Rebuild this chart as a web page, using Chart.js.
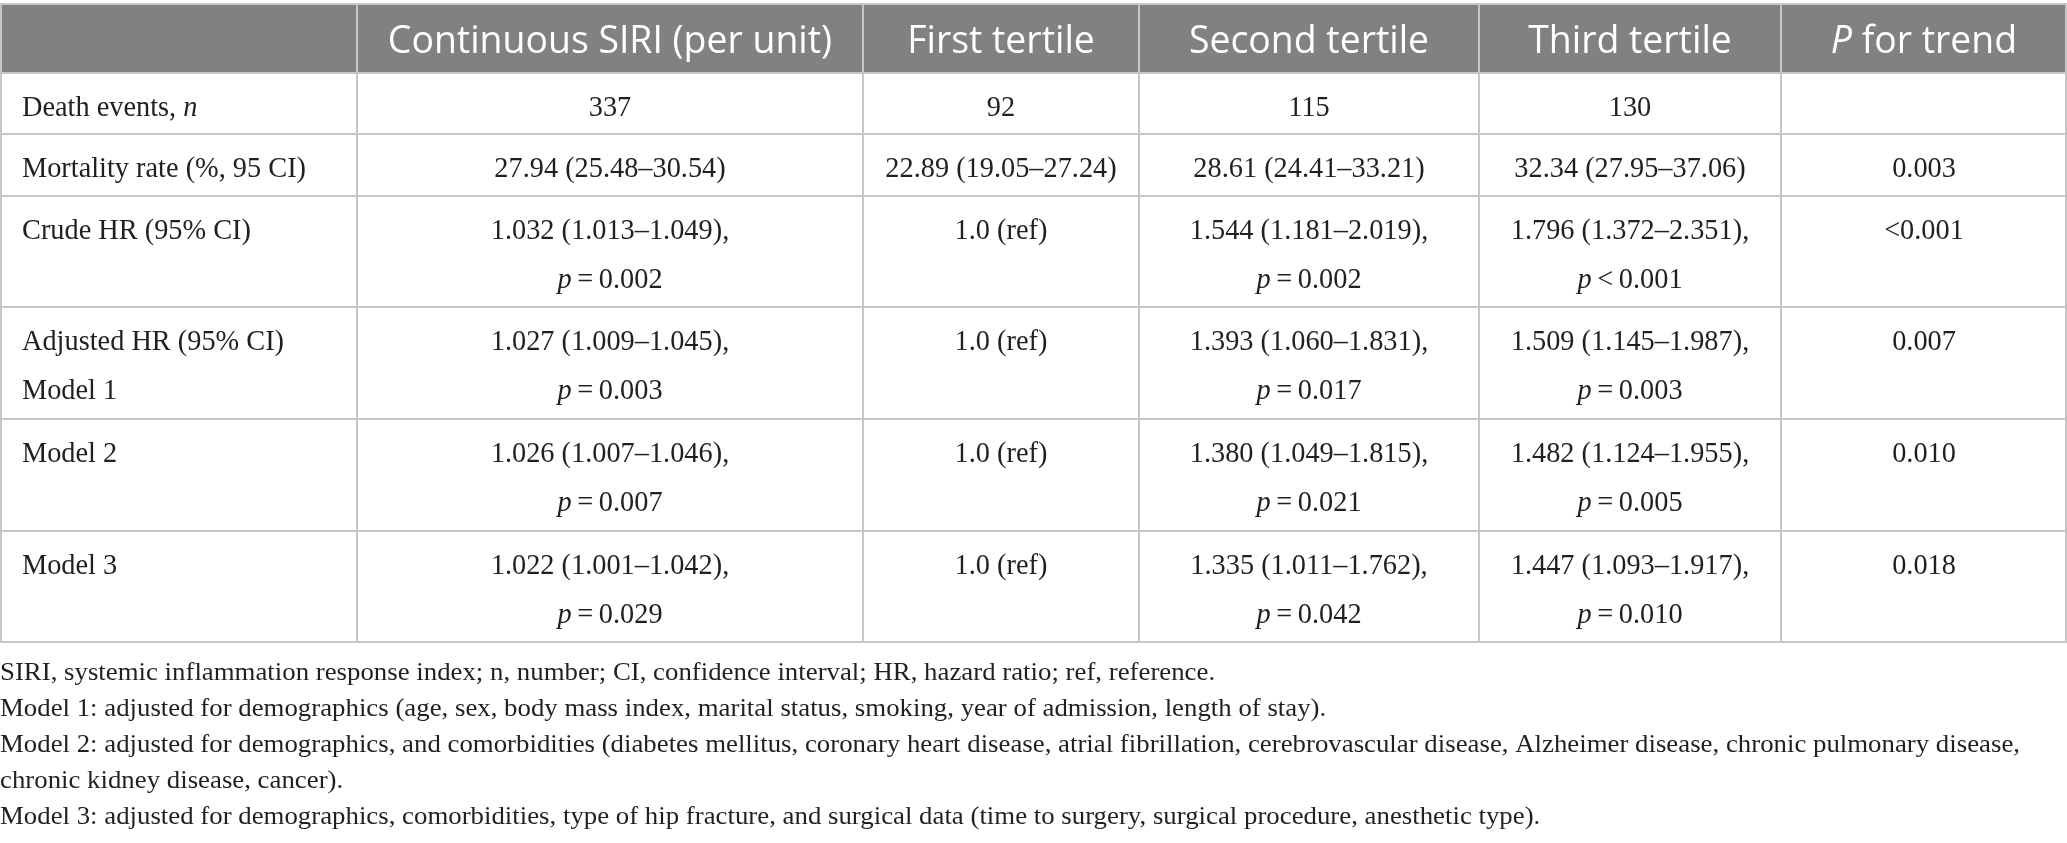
<!DOCTYPE html>
<html>
<head>
<meta charset="utf-8">
<script src="https://cdn.jsdelivr.net/npm/chart.js@4.4.1/dist/chart.umd.min.js"></script>
<style>
  html, body { margin: 0; padding: 0; background: #fff; }
  .table-container { width: 2067px; height: 843px; position: relative; }
</style>
</head>
<body>
<div class="table-container"><canvas class="siri-table"></canvas></div>
<script>
// *text* marks italic runs
const columnHeaders = ["", "Continuous SIRI (per unit)", "First tertile", "Second tertile", "Third tertile", "*P* for trend"];

const rowLabels = [
  ["Death events, *n*"],
  ["Mortality rate (%, 95 CI)"],
  ["Crude HR (95% CI)"],
  ["Adjusted HR (95% CI)", "Model 1"],
  ["Model 2"],
  ["Model 3"]
];

const continuousSiri = [
  ["337"],
  ["27.94 (25.48–30.54)"],
  ["1.032 (1.013–1.049),", "*p*\u2009=\u20090.002"],
  ["1.027 (1.009–1.045),", "*p*\u2009=\u20090.003"],
  ["1.026 (1.007–1.046),", "*p*\u2009=\u20090.007"],
  ["1.022 (1.001–1.042),", "*p*\u2009=\u20090.029"]
];

const firstTertile = [
  ["92"],
  ["22.89 (19.05–27.24)"],
  ["1.0 (ref)"],
  ["1.0 (ref)"],
  ["1.0 (ref)"],
  ["1.0 (ref)"]
];

const secondTertile = [
  ["115"],
  ["28.61 (24.41–33.21)"],
  ["1.544 (1.181–2.019),", "*p*\u2009=\u20090.002"],
  ["1.393 (1.060–1.831),", "*p*\u2009=\u20090.017"],
  ["1.380 (1.049–1.815),", "*p*\u2009=\u20090.021"],
  ["1.335 (1.011–1.762),", "*p*\u2009=\u20090.042"]
];

const thirdTertile = [
  ["130"],
  ["32.34 (27.95–37.06)"],
  ["1.796 (1.372–2.351),", "*p*\u2009<\u20090.001"],
  ["1.509 (1.145–1.987),", "*p*\u2009=\u20090.003"],
  ["1.482 (1.124–1.955),", "*p*\u2009=\u20090.005"],
  ["1.447 (1.093–1.917),", "*p*\u2009=\u20090.010"]
];

const pForTrend = [
  [""],
  ["0.003"],
  ["<0.001"],
  ["0.007"],
  ["0.010"],
  ["0.018"]
];

const footnotes = [
  "SIRI, systemic inflammation response index; n, number; CI, confidence interval; HR, hazard ratio; ref, reference.",
  "Model 1: adjusted for demographics (age, sex, body mass index, marital status, smoking, year of admission, length of stay).",
  "Model 2: adjusted for demographics, and comorbidities (diabetes mellitus, coronary heart disease, atrial fibrillation, cerebrovascular disease, Alzheimer disease, chronic pulmonary disease,",
  "chronic kidney disease, cancer).",
  "Model 3: adjusted for demographics, comorbidities, type of hip fracture, and surgical data (time to surgery, surgical procedure, anesthetic type)."
];

const columns = [rowLabels, continuousSiri, firstTertile, secondTertile, thirdTertile, pForTrend];

// layout (in scale units)
const colWidths = [357, 506, 276, 340, 302, 286];
const headerHeight = 69;
const rowHeights = [61, 62, 111, 112, 112, 111];
const tableTop = 4;
const firstBaseline = 43;
const lineGap = 49;
const footStart = 38;
const footGap = 36;

const headerFace = "'Open Sans'";
const bodyFace = "'Liberation Serif'";
const headerSize = 37.4;
const bodySize = 30;
const footSize = 26;
// target widths used to squeeze the serif text to the reference's narrower face
const bodyFit = { text: "Mortality rate (%, 95 CI)", width: 284 };
const footFit = { text: footnotes[2], width: 2020 };

function parseRuns(text) {
  return text.split("*").map(function(t, i) {
    return { t: t, italic: i % 2 === 1 };
  }).filter(function(r) { return r.t.length; });
}

function fontPair(size, face) {
  return [size + "px " + face, "italic " + size + "px " + face];
}

function drawRuns(ctx, text, x, y, align, fonts, sx) {
  const runs = parseRuns(text);
  ctx.save();
  ctx.translate(x, y);
  ctx.scale(sx, 1);
  let total = 0;
  runs.forEach(function(r) {
    ctx.font = r.italic ? fonts[1] : fonts[0];
    r.w = ctx.measureText(r.t).width;
    total += r.w;
  });
  let cx = align === "center" ? -total / 2 : 0;
  ctx.textAlign = "left";
  ctx.textBaseline = "alphabetic";
  runs.forEach(function(r) {
    ctx.font = r.italic ? fonts[1] : fonts[0];
    ctx.fillText(r.t, cx, 0);
    cx += r.w;
  });
  ctx.restore();
}

function squeezeFor(ctx, fit, font, unit) {
  ctx.font = font;
  return (fit.width * unit) / ctx.measureText(fit.text).width;
}

const tablePlugin = {
  id: "tablePlugin",
  afterDraw(chart) {
    const ctx = chart.ctx;
    const xs = chart.scales.x;
    const ys = chart.scales.y;
    const px = v => xs.getPixelForValue(v);
    const py = v => ys.getPixelForValue(v);
    const unit = px(1) - px(0);

    const headerFonts = fontPair(headerSize, headerFace);
    const bodyFonts = fontPair(bodySize, bodyFace);
    const footFonts = fontPair(footSize, bodyFace);
    const bodySqueeze = squeezeFor(ctx, bodyFit, bodyFonts[0], unit);
    const footSqueeze = squeezeFor(ctx, footFit, footFonts[0], unit);

    const colEdges = [0];
    colWidths.forEach(w => colEdges.push(colEdges[colEdges.length - 1] + w));
    const rowEdges = [tableTop, tableTop + headerHeight];
    rowHeights.forEach(h => rowEdges.push(rowEdges[rowEdges.length - 1] + h));
    const right = colEdges[colEdges.length - 1];
    const bottom = rowEdges[rowEdges.length - 1];

    // header band
    ctx.fillStyle = "#808180";
    ctx.fillRect(px(0), py(rowEdges[0]), px(right) - px(0), py(rowEdges[1]) - py(rowEdges[0]));

    ctx.fillStyle = "#ffffff";
    columnHeaders.forEach(function(h, c) {
      if (!h) return;
      const cx = (colEdges[c] + colEdges[c + 1]) / 2;
      drawRuns(ctx, h, px(cx), py(rowEdges[0] + 49), "center", headerFonts, 1);
    });

    // body cells
    ctx.fillStyle = "#231f20";
    columns.forEach(function(col, c) {
      col.forEach(function(lines, r) {
        const top = rowEdges[r + 1];
        lines.forEach(function(line, k) {
          const y = top + firstBaseline + k * lineGap;
          if (c === 0) {
            drawRuns(ctx, line, px(22), py(y), "left", bodyFonts, bodySqueeze);
          } else {
            const cx = (colEdges[c] + colEdges[c + 1]) / 2;
            drawRuns(ctx, line, px(cx), py(y), "center", bodyFonts, bodySqueeze);
          }
        });
      });
    });

    // grid
    ctx.strokeStyle = "#c6c6c6";
    ctx.lineWidth = 2;
    ctx.beginPath();
    rowEdges.forEach(function(y) {
      ctx.moveTo(px(0), py(y));
      ctx.lineTo(px(right), py(y));
    });
    colEdges.forEach(function(x, i) {
      const xx = i === colEdges.length - 1 ? x - 1 : (i === 0 ? x + 1 : x);
      ctx.moveTo(px(xx), py(rowEdges[0]));
      ctx.lineTo(px(xx), py(bottom));
    });
    ctx.stroke();

    // footnotes
    ctx.fillStyle = "#231f20";
    footnotes.forEach(function(f, i) {
      drawRuns(ctx, f, px(0), py(bottom + footStart + i * footGap), "left", footFonts, footSqueeze);
    });
  }
};

const canvas = document.querySelector(".siri-table");
new Chart(canvas.getContext("2d"), {
  type: "scatter",
  data: { datasets: [] },
  options: {
    responsive: true,
    maintainAspectRatio: false,
    devicePixelRatio: 1,
    animation: false,
    layout: { padding: 0 },
    plugins: { legend: { display: false }, tooltip: { enabled: false } },
    scales: {
      x: { type: "linear", min: 0, max: colWidths.reduce((a, b) => a + b, 0), display: false },
      y: { type: "linear", min: 0, max: 843, reverse: true, display: false }
    }
  },
  plugins: [tablePlugin]
});
</script>
</body>
</html>
